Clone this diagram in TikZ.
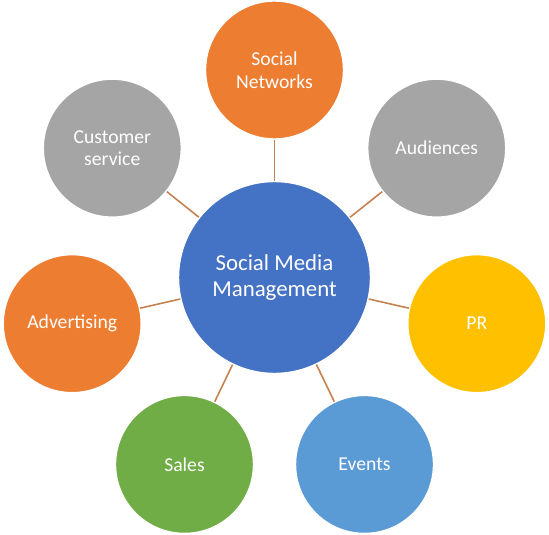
\documentclass[tikz,border=0pt]{standalone}
\usepackage{fontspec}
\setmainfont{Carlito}
\definecolor{smorange}{RGB}{237,125,49}
\definecolor{smgray}{RGB}{165,165,165}
\definecolor{smyellow}{RGB}{255,192,0}
\definecolor{smblue}{RGB}{68,114,196}
\definecolor{smlblue}{RGB}{91,155,213}
\definecolor{smgreen}{RGB}{112,173,71}
\definecolor{smline}{RGB}{197,128,80}
\tikzset{
  hub/.style={circle,draw=white,line width=0.8pt,minimum size=3.84cm,inner sep=0pt,
    text=white,align=center,font=\fontsize{13}{15}\selectfont},
  spoke/.style={circle,draw=white,line width=0.8pt,minimum size=2.76cm,inner sep=0pt,
    text=white,align=center,font=\fontsize{11.2}{12.8}\selectfont},
  link/.style={smline,line width=0.9pt}
}
\begin{document}
\begin{tikzpicture}
  \useasboundingbox (0,0) rectangle (10.98,10.68);
  \coordinate (mid) at (5.49,5.13);
  % outer circles, 360/7 apart
  \node[spoke,fill=smorange] (networks) at ([shift={(90:4.15)}]mid) {Social\\Networks};
  \node[spoke,fill=smgray] (audiences) at ([shift={(38.57:4.15)}]mid) {Audiences};
  \node[spoke,fill=smyellow] (pr) at ([shift={(-12.86:4.15)}]mid) {PR};
  \node[spoke,fill=smlblue] (events) at ([shift={(-64.29:4.15)}]mid) {Events};
  \node[spoke,fill=smgreen] (sales) at ([shift={(-115.71:4.15)}]mid) {Sales};
  \node[spoke,fill=smorange] (advertising) at ([shift={(-167.14:4.15)}]mid) {Advertising};
  \node[spoke,fill=smgray] (service) at ([shift={(141.43:4.15)}]mid) {Customer\\service};
  \node[hub,fill=smblue] (smm) at (mid) {Social Media\\Management};
  \draw[link] (smm) -- (networks);
  \draw[link] (smm) -- (audiences);
  \draw[link] (smm) -- (pr);
  \draw[link] (smm) -- (events);
  \draw[link] (smm) -- (sales);
  \draw[link] (smm) -- (advertising);
  \draw[link] (smm) -- (service);
\end{tikzpicture}
\end{document}
